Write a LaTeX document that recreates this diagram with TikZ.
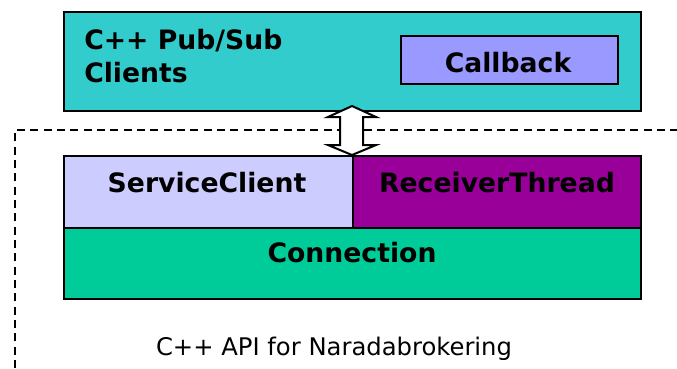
\documentclass[tikz,border=0pt]{standalone}
\usepackage{fontspec}
\setmainfont{DejaVu Sans}
\begin{document}
\begin{tikzpicture}[x=0.75pt,y=-0.75pt,
  box/.style={draw=black,line width=1.5pt,inner sep=0pt},
  lbl/.style={font=\bfseries\fontsize{20}{24.75}\selectfont,inner sep=0pt,anchor=base},
  captext/.style={font=\fontsize{18.2}{22}\selectfont,inner sep=0pt,anchor=base}]
\useasboundingbox (0,0) rectangle (677,368);
\fill[white] (0,0) rectangle (677,368);
% dashed frame
\draw[line width=1.4pt,dash pattern=on 6pt off 4pt] (15,368) -- (15,130) -- (677,130);
% top box
\node[box,fill={rgb,255:red,51;green,204;blue,204},minimum width=577*0.75pt,minimum height=99*0.75pt,anchor=north west] (pub) at (63,11) {};
\node[lbl,anchor=base west] (pubtxt) at (84,49) {C++ Pub/Sub};
\node[lbl,anchor=base west] (pubtxt2) at (84,82) {Clients};
\node[box,fill={rgb,255:red,153;green,153;blue,255},minimum width=217*0.75pt,minimum height=48*0.75pt,anchor=north west] (cb) at (400,35) {};
\node[lbl] (cbtxt) at (508,72) {Callback};
% bottom stack
\node[box,fill={rgb,255:red,204;green,204;blue,255},minimum width=289*0.75pt,minimum height=72*0.75pt,anchor=north west] (sc) at (63,155) {};
\node[lbl] (sctxt) at (207,192) {ServiceClient};
\node[box,fill={rgb,255:red,153;green,0;blue,153},minimum width=288*0.75pt,minimum height=72*0.75pt,anchor=north west] (rt) at (352,155) {};
\node[lbl] (rttxt) at (497,192) {ReceiverThread};
\node[box,fill={rgb,255:red,0;green,204;blue,153},minimum width=577*0.75pt,minimum height=71*0.75pt,anchor=north west] (conn) at (63,227) {};
\node[lbl] (conntxt) at (352,262) {Connection};
% double arrow
\draw[fill=white,line width=1.5pt,line join=miter]
  (352,106) -- (376,117) -- (363,117) -- (363,145) -- (376,145) -- (352,155)
  -- (328,145) -- (340,145) -- (340,117) -- (328,117) -- cycle;
% caption
\node[captext] (caption) at (334,355) {C++ API for Naradabrokering};
\end{tikzpicture}
\end{document}
